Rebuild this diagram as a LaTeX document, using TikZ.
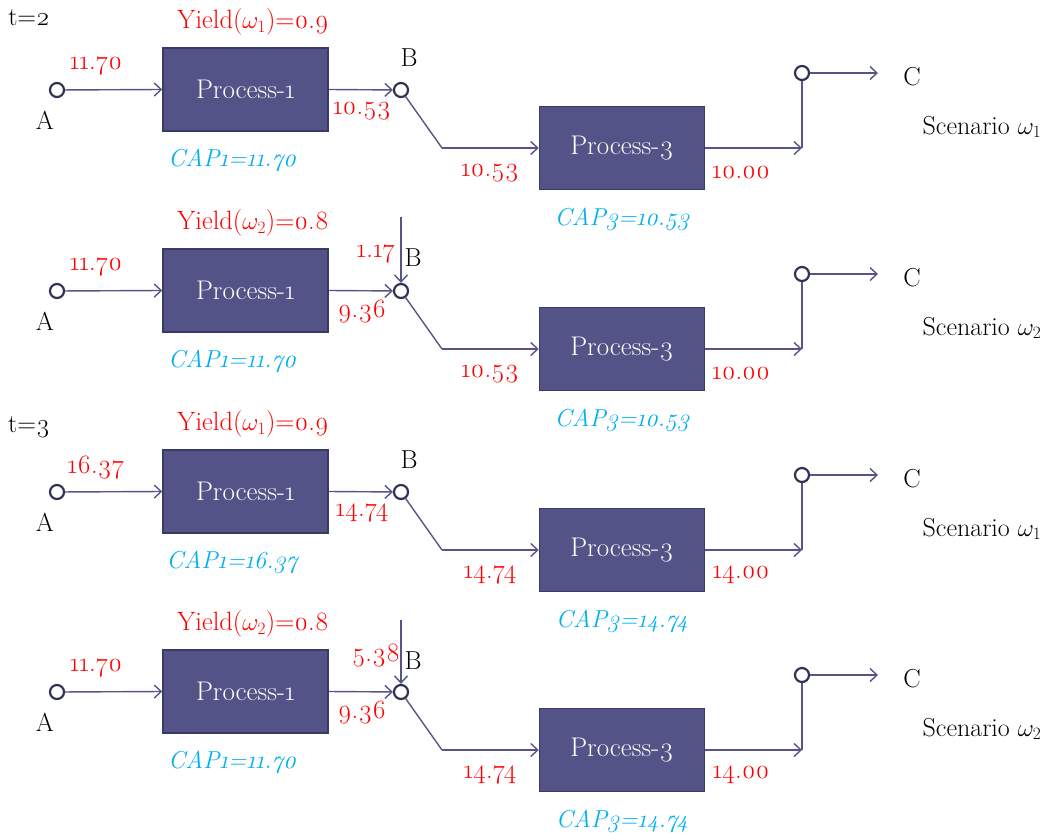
\documentclass[tikz,border=0pt]{standalone}
\usepackage{fontspec}
\setmainfont{Latin Modern Roman}[Numbers=OldStyle]
\usetikzlibrary{arrows.meta}
\definecolor{boxfill}{RGB}{83,83,135}
\definecolor{boxline}{RGB}{58,58,100}
\definecolor{linec}{RGB}{85,85,135}
\definecolor{circc}{RGB}{50,50,85}
\definecolor{capc}{RGB}{0,176,240}
\definecolor{lblred}{RGB}{255,0,0}
\tikzset{
  procbox/.style={draw=boxline, line width=1.5pt, fill=boxfill, minimum width=165pt, minimum height=83pt, inner sep=0pt, text=white, font=\fontsize{27}{30}\selectfont},
  portc/.style={circle, draw=circc, line width=2.2pt, fill=white, minimum size=14pt, inner sep=0pt},
  flow/.style={draw=linec, line width=1.4pt},
  arr/.style={flow, -{Straight Barb[length=7pt,width=13pt,line width=1.4pt]}},
  redlbl/.style={text=lblred, font=\fontsize{26.5}{30}\selectfont, inner sep=0pt},
  caplbl/.style={text=capc, font=\fontsize{24.5}{28}\selectfont\itshape, inner sep=0pt},
  blk/.style={text=black, font=\fontsize{26}{30}\selectfont, inner sep=0pt},
}
\begin{document}
\begin{tikzpicture}[x=1pt,y=-1pt]
\useasboundingbox (0,0) rectangle (1048,832);
\foreach \id/\yo/\w/\yv/\a/\ba/\bb/\c/\capa/\capb in {
  r1/0/1/0.9/11.70/10.53/10.53/10.00/11.70/10.53,
  r2/201/2/0.8/11.70/9.36/10.53/10.00/11.70/10.53,
  r3/402/1/0.9/16.37/14.74/14.74/14.00/16.37/14.74,
  r4/602/2/0.8/11.70/9.36/14.74/14.00/11.70/14.74}{
  \node[redlbl] (\id yield) at (253,\yo+22) {Yield($\omega_{\w}$)=\yv};
  \node[portc] (\id A) at (57,\yo+90) {};
  \node[blk] (\id Alab) at (45,\yo+120) {A};
  \node[redlbl] (\id alab) at (96,\yo+66) {\a};
  \node[procbox] (\id P1) at (245.5,\yo+89.5) {Process-1};
  \node[caplbl] (\id cap1) at (232,\yo+160) {CAP1=\capa};
  \node[portc] (\id B) at (401,\yo+90) {};
  \node[redlbl] (\id balab) at (362,\yo+111) {\ba};
  \coordinate (\id bend) at (442,\yo+148);
  \node[redlbl] (\id bblab) at (490,\yo+173) {\bb};
  \node[procbox] (\id P3) at (622,\yo+148) {Process-3};
  \node[caplbl] (\id cap3) at (622,\yo+219) {CAP3=\capb};
  \coordinate (\id cin) at (802,\yo+148);
  \node[redlbl] (\id clab) at (741,\yo+173) {\c};
  \node[portc] (\id C) at (802,\yo+73) {};
  \coordinate (\id cout) at (878,\yo+73);
  \node[blk] (\id Clab) at (912,\yo+77) {C};
  \node[blk] (\id scen) at (982,\yo+127) {Scenario $\omega_{\w}$};
  \draw[arr] (\id A) -- (\id P1.west);
  \draw[arr] (\id P1.east) -- (\id B);
  \draw[flow] (\id B) -- (\id bend);
  \draw[arr] (\id bend) -- (\id P3.west);
  \draw[arr] (\id P3.east) -- (\id cin);
  \draw[flow] (\id cin) -- (\id C);
  \draw[arr] (\id C) -- (\id cout);
}
\node[blk] (t2) at (29,18) {t=2};
\node[blk] (t3) at (29,427) {t=3};
\node[blk] (r1Blab) at (409,58) {B};
\node[blk] (r3Blab) at (409,460) {B};
\node[blk] (r2Blab) at (413,258) {B};
\node[blk] (r4Blab) at (413,661) {B};
\coordinate (r2in) at (401,217);
\coordinate (r4in) at (401,620);
\draw[arr] (r2in) -- (r2B);
\draw[arr] (r4in) -- (r4B);
\node[redlbl] (r2inlab) at (376,254) {1.17};
\node[redlbl] (r4inlab) at (376,656) {5.38};
\end{tikzpicture}
\end{document}
